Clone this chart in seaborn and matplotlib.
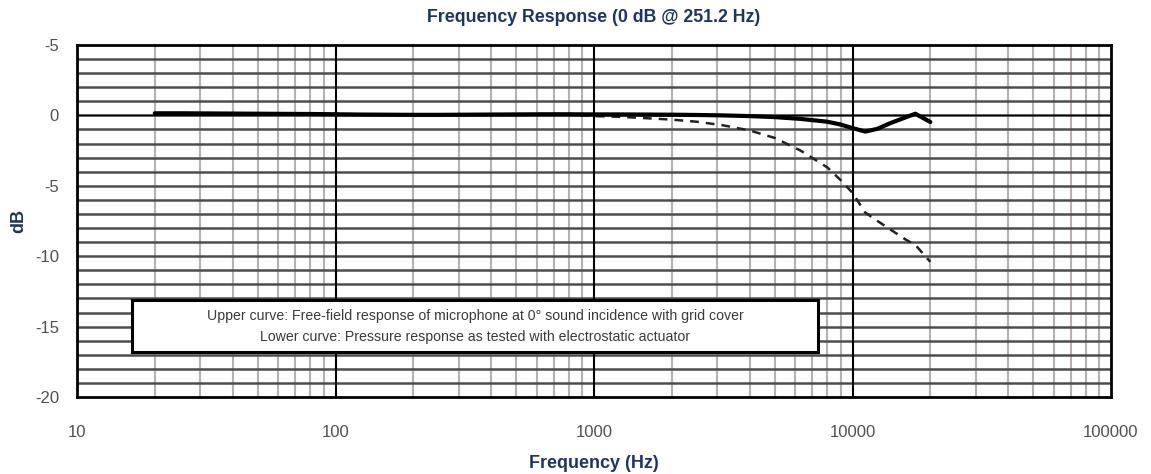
import matplotlib
matplotlib.use("Agg")
import matplotlib.pyplot as plt
import seaborn as sns
import pandas as pd
from matplotlib.ticker import FixedLocator, NullFormatter
from matplotlib.patches import Rectangle

# ---- data ----
freq_hz = [20, 25, 31.5, 40, 50, 63, 80, 100, 125, 160, 200, 250, 315, 400, 500, 630, 800,
           1000, 1250, 1600, 2000, 2500, 3150, 4000, 5000, 6300, 8000, 9000, 10000,
           11200, 12500, 14000, 16000, 17500, 20000]
upper_db = [0.15, 0.15, 0.14, 0.13, 0.12, 0.11, 0.1, 0.08, 0.06, 0.05, 0.04, 0.04, 0.05, 0.06, 0.07, 0.08, 0.08,
            0.07, 0.07, 0.06, 0.05, 0.03, 0.0, -0.05, -0.12, -0.25, -0.45, -0.65, -0.9,
            -1.15, -0.95, -0.55, -0.15, 0.12, -0.47]
lower_db = [0.15, 0.15, 0.14, 0.13, 0.12, 0.11, 0.1, 0.08, 0.06, 0.05, 0.04, 0.04, 0.05, 0.06, 0.07, 0.08, 0.05,
            -0.05, -0.1, -0.2, -0.3, -0.45, -0.7, -1.07, -1.6, -2.5, -3.7, -4.6, -5.5,
            -6.9, -7.5, -8.1, -8.8, -9.2, -10.4]

ytick_vals = [5, 0, -5, -10, -15, -20]
ytick_labels = ["-5", "0", "-5", "-10", "-15", "-20"]
xtick_vals = [10, 100, 1000, 10000, 100000]
xtick_labels = ["10", "100", "1000", "10000", "100000"]

title = "Frequency Response (0 dB @ 251.2 Hz)"
note_lines = ["Upper curve: Free-field response of microphone at 0\u00b0 sound incidence with grid cover",
              "Lower curve: Pressure response as tested with electrostatic actuator"]

df = pd.DataFrame({
    "freq": freq_hz * 2,
    "dB": upper_db + lower_db,
    "curve": ["Upper"] * len(freq_hz) + ["Lower"] * len(freq_hz),
})

sns.set_style("white")
plt.rcParams["font.family"] = ["Liberation Sans", "DejaVu Sans"]

navy = "#1c3566"
tickc = "#505050"

W, H = 1151, 474
fig = plt.figure(figsize=(W / 100, H / 100), dpi=100)
ax = fig.add_axes([77 / W, 1 - 397 / H, (1111 - 77) / W, (397 - 45) / H])

ax.set_xscale("log")
ax.set_xlim(10, 100000)
ax.set_ylim(-20, 5)

# grids
minor_x = [m * 10 ** e for e in range(1, 5) for m in range(2, 10)]
for xv in minor_x:
    ax.axvline(xv, color="#b8b0b0", lw=1.5, zorder=1)
for yv in range(-19, 5):
    ax.axhline(yv, color="#4d4d4d", lw=1.8, zorder=1)
for xv in xtick_vals[1:-1]:
    ax.axvline(xv, color="black", lw=1.5, zorder=2)
ax.axhline(0, color="black", lw=1.0, zorder=2)

sns.lineplot(data=df[df.curve == "Lower"], x="freq", y="dB", ax=ax, color="#222222",
             lw=1.8, linestyle=(0, (3.5, 2.8)), zorder=3, legend=False)
sns.lineplot(data=df[df.curve == "Upper"], x="freq", y="dB", ax=ax, color="black",
             lw=3.0, zorder=4, legend=False)

ax.xaxis.set_major_locator(FixedLocator(xtick_vals))
ax.set_xticklabels(xtick_labels)
ax.xaxis.set_minor_locator(FixedLocator([]))
ax.xaxis.set_minor_formatter(NullFormatter())
ax.set_yticks(ytick_vals)
ax.set_yticklabels(ytick_labels)
ax.tick_params(axis="both", which="major", length=6, width=1.2, color="black",
               labelcolor=tickc, labelsize=12, direction="out")
ax.tick_params(axis="x", pad=14)
ax.tick_params(axis="y", pad=6, length=7)
for s in ax.spines.values():
    s.set_color("black")
    s.set_linewidth(2.0)

ax.set_xlabel("")
ax.set_ylabel("")
fig.text(594 / W, 1 - 463 / H, "Frequency (Hz)", ha="center", va="center",
         fontsize=13, fontweight="bold", color=navy)
fig.text(19 / W, 1 - 221 / H, "dB", ha="center", va="center", rotation=90,
         fontsize=13, fontweight="bold", color=navy)
fig.text(594 / W, 1 - 18 / H, title, ha="center", va="center",
         fontsize=12.8, fontweight="bold", color=navy)

# note box
box = Rectangle((132 / W, 1 - 352 / H), (818 - 132) / W, (352 - 300) / H,
                transform=fig.transFigure, fc="white", ec="black", lw=2.2, zorder=6)
fig.add_artist(box)
fig.text(475 / W, 1 - 316 / H, note_lines[0], ha="center", va="center",
         fontsize=10.2, color="#3a3a3a", zorder=7)
fig.text(475 / W, 1 - 337 / H, note_lines[1], ha="center", va="center",
         fontsize=10.2, color="#3a3a3a", zorder=7)

fig.savefig("out.png", dpi=100)
